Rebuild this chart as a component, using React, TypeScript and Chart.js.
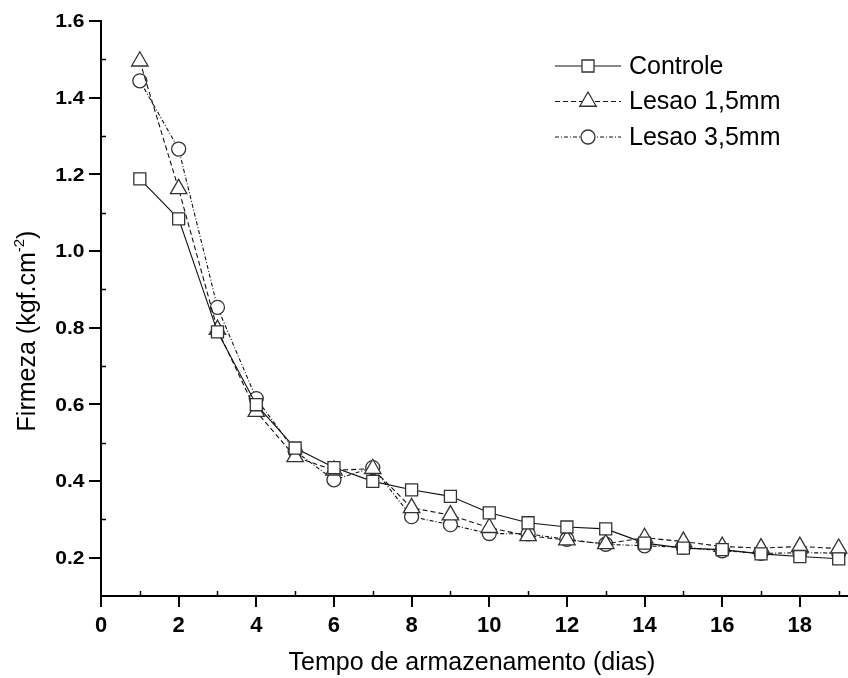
import React, { useEffect, useRef } from 'react';
import { Chart, registerables } from 'chart.js';
import { drawPoint } from 'chart.js/helpers';

Chart.register(...registerables);

// ---- data ----
const days = [1, 2, 3, 4, 5, 6, 7, 8, 9, 10, 11, 12, 13, 14, 15, 16, 17, 18, 19];
const controle = [1.188, 1.084, 0.789, 0.599, 0.486, 0.435, 0.399, 0.377, 0.36, 0.317, 0.291, 0.28, 0.275, 0.238, 0.225, 0.221, 0.21, 0.203, 0.197];
const lesao15 = [1.495, 1.162, 0.795, 0.581, 0.463, 0.428, 0.432, 0.33, 0.311, 0.278, 0.257, 0.246, 0.236, 0.252, 0.242, 0.229, 0.225, 0.229, 0.224];
const lesao35 = [1.444, 1.266, 0.853, 0.615, 0.478, 0.403, 0.435, 0.307, 0.286, 0.263, 0.262, 0.248, 0.235, 0.231, 0.227, 0.218, 0.211, 0.213, 0.212];
const seriesNames = ['Controle', 'Lesao 1,5mm', 'Lesao 3,5mm'];

const xTicks = [0, 2, 4, 6, 8, 10, 12, 14, 16, 18];
const xMinorTicks = [1, 3, 5, 7, 9, 11, 13, 15, 17, 19];
const yTicks = [0.2, 0.4, 0.6, 0.8, 1.0, 1.2, 1.4, 1.6];
const yTickLabels = ['0.2', '0.4', '0.6', '0.8', '1.0', '1.2', '1.4', '1.6'];
const yMinorTicks = [0.3, 0.5, 0.7, 0.9, 1.1, 1.3, 1.5];

const xTitle = 'Tempo de armazenamento (dias)';
const yTitleMain = 'Firmeza (kgf.cm';
const yTitleSup = '-2';
const yTitleEnd = ')';

const FONT = '"Liberation Sans", Arial, sans-serif';
const INK = '#111';

const toPoints = (vals: number[]) => days.map((d, i) => ({ x: d, y: vals[i] }));

const extrasPlugin = {
  id: 'extras',
  afterDraw(chart: any) {
    const ctx: CanvasRenderingContext2D = chart.ctx;
    const xs = chart.scales.x;
    const ys = chart.scales.y;
    const area = chart.chartArea;
    ctx.save();
    // minor ticks (inside)
    ctx.strokeStyle = '#000';
    ctx.lineWidth = 1.5;
    ctx.setLineDash([]);
    ctx.beginPath();
    xMinorTicks.forEach((v) => {
      const px = Math.round(xs.getPixelForValue(v)) + 0.5;
      ctx.moveTo(px, area.bottom);
      ctx.lineTo(px, area.bottom - 5);
    });
    yMinorTicks.forEach((v) => {
      const py = Math.round(ys.getPixelForValue(v)) + 0.5;
      ctx.moveTo(area.left, py);
      ctx.lineTo(area.left + 5, py);
    });
    ctx.stroke();

    // x tick labels
    ctx.fillStyle = '#000';
    ctx.font = `bold 22px ${FONT}`;
    ctx.textAlign = 'center';
    ctx.textBaseline = 'alphabetic';
    xTicks.forEach((v) => {
      ctx.fillText(String(v), xs.getPixelForValue(v), 631.5);
    });

    // y tick labels (slightly wide, as in the reference)
    ctx.font = `bold 18px ${FONT}`;
    ctx.textAlign = 'right';
    yTicks.forEach((v, i) => {
      const py = ys.getPixelForValue(v);
      ctx.save();
      ctx.translate(84.5, py);
      ctx.scale(1.17, 1);
      ctx.fillText(yTickLabels[i], 0, 6.3);
      ctx.restore();
    });

    // x title
    ctx.font = `25px ${FONT}`;
    ctx.textAlign = 'center';
    ctx.fillText(xTitle, 472, 670);

    // y title with superscript
    ctx.save();
    ctx.translate(34.5, 331);
    ctx.rotate(-Math.PI / 2);
    ctx.font = `25px ${FONT}`;
    const w1 = ctx.measureText(yTitleMain).width;
    const w3 = ctx.measureText(yTitleEnd).width;
    ctx.font = `15px ${FONT}`;
    const w2 = ctx.measureText(yTitleSup).width;
    const total = w1 + w2 + w3;
    let cx = -total / 2;
    ctx.textAlign = 'left';
    ctx.font = `25px ${FONT}`;
    ctx.fillText(yTitleMain, cx, 0);
    cx += w1;
    ctx.font = `15px ${FONT}`;
    ctx.fillText(yTitleSup, cx, -11);
    cx += w2;
    ctx.font = `25px ${FONT}`;
    ctx.fillText(yTitleEnd, cx, 0);
    ctx.restore();

    // legend
    chart.data.datasets.forEach((ds: any, i: number) => {
      const y = 66 + i * 35.5;
      ctx.strokeStyle = ds.borderColor;
      ctx.lineWidth = ds.borderWidth;
      ctx.setLineDash(ds.borderDash || []);
      ctx.beginPath();
      ctx.moveTo(555, y);
      ctx.lineTo(621, y);
      ctx.stroke();
      ctx.setLineDash([]);
      ctx.fillStyle = ds.pointBackgroundColor;
      ctx.strokeStyle = ds.pointBorderColor;
      ctx.lineWidth = ds.pointBorderWidth;
      drawPoint(ctx, { pointStyle: ds.pointStyle, rotation: 0, radius: ds.pointRadius, borderWidth: ds.pointBorderWidth }, 588, y);
      ctx.fillStyle = '#000';
      ctx.font = `25px ${FONT}`;
      ctx.textAlign = 'left';
      ctx.textBaseline = 'middle';
      ctx.fillText(ds.label, 629, y + 1);
      ctx.textBaseline = 'alphabetic';
    });
    ctx.restore();
  },
};

export default function App() {
  const ref = useRef<HTMLCanvasElement | null>(null);
  useEffect(() => {
    if (!ref.current) return;
    Chart.defaults.font.family = FONT;
    const common = {
      borderColor: INK,
      borderWidth: 1.1,
      pointBackgroundColor: '#fff',
      pointBorderColor: '#333',
      pointBorderWidth: 1.3,
      tension: 0,
      fill: false,
      clip: false,
    };
    const chart = new Chart(ref.current, {
      type: 'line',
      data: {
        datasets: [
          { ...common, label: seriesNames[0], data: toPoints(controle), pointStyle: 'rect', pointRadius: 8.5, borderDash: [] },
          { ...common, label: seriesNames[1], data: toPoints(lesao15), pointStyle: 'triangle', pointRadius: 9.5, borderDash: [5, 3] },
          { ...common, label: seriesNames[2], data: toPoints(lesao35), pointStyle: 'circle', pointRadius: 7, borderDash: [4, 2, 1, 2] },
        ],
      },
      options: {
        animation: false,
        responsive: false,
        maintainAspectRatio: false,
        layout: { autoPadding: false, padding: { top: 21, left: 0, right: 0, bottom: 0 } },
        plugins: { legend: { display: false }, tooltip: { enabled: false }, title: { display: false } },
        scales: {
          x: {
            type: 'linear',
            min: 0,
            max: 19.24,
            afterFit: (s: any) => { s.height = 82; s.paddingLeft = 0; s.paddingRight = 0; },
            afterBuildTicks: (s: any) => { s.ticks = xTicks.map((v) => ({ value: v })); },
            grid: { drawOnChartArea: false, drawTicks: true, tickLength: 11, color: '#000', lineWidth: 2 },
            border: { display: true, color: '#000', width: 2 },
            ticks: { display: false, autoSkip: false },
          },
          y: {
            type: 'linear',
            min: 0.1,
            max: 1.6,
            afterFit: (s: any) => { s.width = 101; s.paddingTop = 0; s.paddingBottom = 0; },
            afterBuildTicks: (s: any) => { s.ticks = yTicks.map((v) => ({ value: v })); },
            grid: { drawOnChartArea: false, drawTicks: true, tickLength: 12, color: '#000', lineWidth: 2 },
            border: { display: true, color: '#000', width: 2 },
            ticks: { display: false, autoSkip: false },
          },
        },
      },
      plugins: [extrasPlugin],
    } as any);
    return () => chart.destroy();
  }, []);
  return (
    <div style={{ position: 'absolute', left: 0, top: 0, width: 848, height: 678, background: '#fff' }}>
      <canvas ref={ref} width={848} height={678} style={{ display: 'block', width: 848, height: 678 }} />
    </div>
  );
}
